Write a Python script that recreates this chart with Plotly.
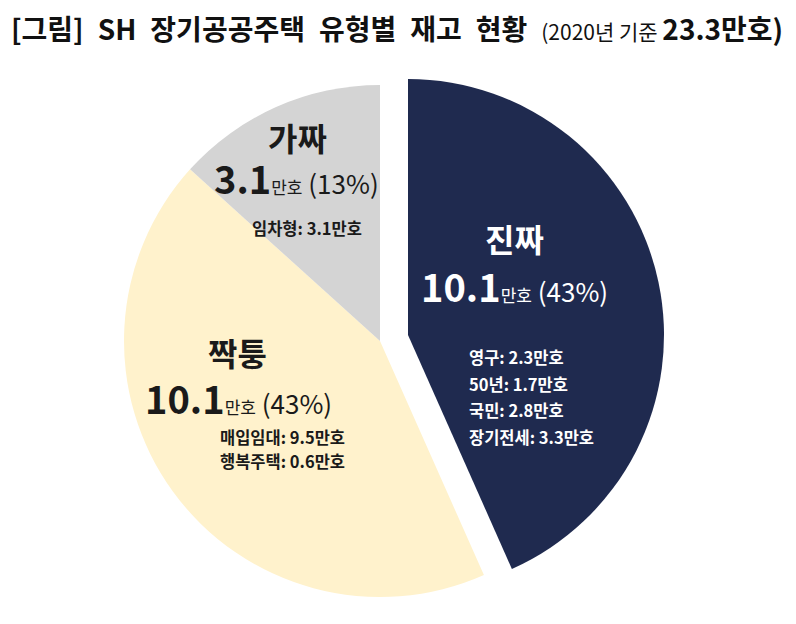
import plotly.graph_objects as go

# SH long-term public housing stock by type (2020), unit: 만호
categories = ["진짜", "짝퉁", "가짜"]
values = [10.1, 10.1, 3.1]
detail_labels = [["영구", "50년", "국민", "장기전세"], ["매입임대", "행복주택"], ["임차형"]]
detail_values = [[2.3, 1.7, 2.8, 3.3], [9.5, 0.6], [3.1]]

slice_colors = ["#1F2A4F", "#FFF2CC", "#D4D4D4"]
text_colors = ["white", "#1A1A1A", "#1A1A1A"]

# page is 796x624, body margin of 8px around the figure
PAD = 8
W, H = 796 - 2 * PAD, 624 - 2 * PAD
FONT = "Noto Sans CJK KR"


def px_x(x):
    return (x - PAD) / W


def px_y(y):
    return 1 - (y - PAD) / H


def dom_x(cx, r):
    return [px_x(cx - r), px_x(cx + r)]


def dom_y(cy, r):
    return [px_y(cy + r), px_y(cy - r)]


total = sum(values)
R = 256

fig = go.Figure()

# yellow + gray slices
fig.add_trace(
    go.Pie(
        labels=categories,
        values=values,
        sort=False,
        direction="clockwise",
        rotation=0,
        marker=dict(colors=["rgba(0,0,0,0)", slice_colors[1], slice_colors[2]], line=dict(width=0)),
        textinfo="none",
        hoverinfo="label+value",
        domain=dict(x=dom_x(380, R), y=dom_y(341, R)),
        showlegend=False,
    )
)

# navy slice, pulled out to the right
fig.add_trace(
    go.Pie(
        labels=categories,
        values=values,
        sort=False,
        direction="clockwise",
        rotation=0,
        marker=dict(colors=[slice_colors[0], "rgba(0,0,0,0)", "rgba(0,0,0,0)"], line=dict(width=0)),
        textinfo="none",
        hoverinfo="label+value",
        domain=dict(x=dom_x(408, R), y=dom_y(335, R)),
        showlegend=False,
    )
)

# label positions (page px): title centre, value centre, detail left x, first detail y, line step
label_pos = [
    dict(title=(514, 238), value=(514, 285), detail=(467, 357, 26.5)),
    dict(title=(237, 352), value=(238, 397), detail=(218, 437, 24)),
    dict(title=(297, 137), value=(296, 177), detail=(250, 228, 24)),
]

annotations = []
for i, cat in enumerate(categories):
    pos = label_pos[i]
    color = text_colors[i]
    pct = round(values[i] / total * 100)
    annotations.append(
        dict(
            text=f"<b>{cat}</b>",
            x=px_x(pos["title"][0]), y=px_y(pos["title"][1]),
            xref="paper", yref="paper", xanchor="center", yanchor="middle",
            showarrow=False, font=dict(family=FONT, size=32, color=color),
        )
    )
    annotations.append(
        dict(
            text=f"<b><span style='font-size:38px'>{values[i]}</span></b>"
                 f"<span style='font-size:17px'>만호</span> ({pct}%)",
            x=px_x(pos["value"][0]), y=px_y(pos["value"][1]),
            xref="paper", yref="paper", xanchor="center", yanchor="middle",
            showarrow=False, font=dict(family=FONT, size=26, color=color),
        )
    )
    dx, dy0, step = pos["detail"]
    for j, (lab, val) in enumerate(zip(detail_labels[i], detail_values[i])):
        annotations.append(
            dict(
                text=f"<b>{lab}: {val}만호</b>",
                x=px_x(dx), y=px_y(dy0 + j * step),
                xref="paper", yref="paper", xanchor="left", yanchor="middle",
                showarrow=False, font=dict(family=FONT, size=16.5, color=color),
            )
        )

# title
annotations.append(
    dict(
        text="<b>[그림]\u2002SH\u2002장기공공주택\u2002유형별\u2002재고\u2002현황</b>\u2002"
             f"<span style='font-size:21px'>(2020년 기준 </span><b>{total:.1f}만호)</b>",
        x=px_x(9), y=px_y(28),
        xref="paper", yref="paper", xanchor="left", yanchor="middle",
        showarrow=False, font=dict(family=FONT, size=28, color="#111111"),
    )
)

fig.update_layout(
    width=W,
    height=H,
    margin=dict(l=0, r=0, t=0, b=0),
    paper_bgcolor="white",
    plot_bgcolor="white",
    annotations=annotations,
)

fig.write_html("out.html")
